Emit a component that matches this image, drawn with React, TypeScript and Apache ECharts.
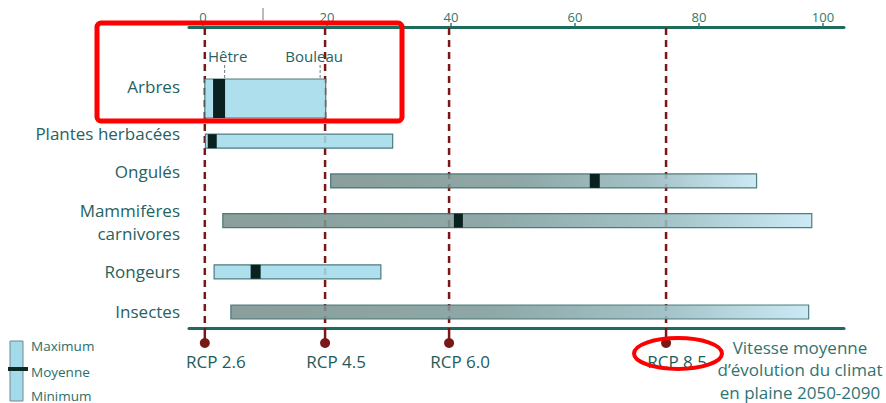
import React, { useEffect, useRef } from "react";
import * as echarts from "echarts";

// ---- data ----
const categories = ["Arbres", "Plantes herbacées", "Ongulés", "Mammifères\ncarnivores", "Rongeurs", "Insectes"];
const minValues = [0.3, 0.4, 20.6, 3.2, 1.8, 4.5];
const maxValues = [19.8, 30.6, 89.3, 98.2, 28.7, 97.7];
const meanValues: (number | null)[] = [2.6, 1.5, 63.2, 41.2, 8.5, null];
const xTicks = [0, 20, 40, 60, 80, 100];
const rcpNames = ["RCP 2.6", "RCP 4.5", "RCP 6.0", "RCP 8.5"];
const rcpValues = [0.3, 19.7, 39.7, 74.7];
const treeNames = ["Hêtre", "Bouleau"];
const treeValues = [3.5, 18.9];
const legendLabels = ["Maximum", "Moyenne", "Minimum"];
const footnote = "Vitesse moyenne\nd\u2019évolution du climat\nen plaine 2050-2090";

// ---- layout / style (not data) ----
const rowPos = [0, 1.0, 1.93, 2.86, 4.06, 5];
const rowHeight = [39, 14, 14, 14, 14, 14];
const meanWidth = [12, 9, 10, 9, 10, 0];
const labelDy = [-12, -8, -9, 1, 0, 0];
const gradientRows = [false, false, true, true, false, true];
const treeLabelDx = [3, -6];

const FONT = "'Open Sans', 'Noto Sans', sans-serif";
const TEAL = "#26625f";
const RED = "#7a1818";

export default function App() {
  const ref = useRef<HTMLDivElement>(null);

  useEffect(() => {
    if (!ref.current) return;
    const chart = echarts.init(ref.current, null, { renderer: "svg" });

    const barData = categories.map((_, i) => [minValues[i], maxValues[i], rowPos[i], i]);

    const option: any = {
      animation: false,
      backgroundColor: "#ffffff",
      grid: { left: 189, right: 42, top: 27, bottom: 75 },
      xAxis: [
        {
          type: "value",
          position: "top",
          min: -2.25,
          max: 103.4,
          axisLine: { show: true, onZero: false, lineStyle: { color: "#1d6b5b", width: 3 } },
          axisTick: { show: true, customValues: xTicks, length: 4, lineStyle: { color: "#2b7a70", width: 1.5 } },
          axisLabel: { show: true, customValues: xTicks, color: "#2b7a70", fontSize: 13, fontFamily: FONT, margin: 4 },
          splitLine: { show: false },
        },
        {
          type: "value",
          position: "bottom",
          min: -2.25,
          max: 103.4,
          axisLine: { show: true, onZero: false, lineStyle: { color: "#1d6b5b", width: 3 } },
          axisTick: { show: false },
          axisLabel: { show: false },
          splitLine: { show: false },
        },
      ],
      yAxis: { type: "value", inverse: true, min: -1.674, max: 5.375, show: false },
      series: [
        {
          type: "custom",
          name: "rcp",
          xAxisIndex: 0,
          z: 1,
          data: rcpValues.map((v) => [v]),
          renderItem: (params: any, api: any) => {
            const i = params.dataIndex;
            const cs = params.coordSys;
            const x = api.coord([api.value(0), 0])[0];
            const top = cs.y;
            const bottom = cs.y + cs.height;
            return {
              type: "group",
              children: [
                { type: "line", shape: { x1: x, y1: top + 1, x2: x, y2: bottom }, style: { stroke: RED, lineWidth: 2.5, lineDash: [7, 5] } },
                { type: "line", shape: { x1: x, y1: bottom, x2: x, y2: bottom + 14 }, style: { stroke: RED, lineWidth: 2.5 } },
                { type: "circle", shape: { cx: x, cy: bottom + 15, r: 5 }, style: { fill: RED } },
                {
                  type: "text",
                  x: x + 11,
                  y: bottom + 33,
                  style: { text: rcpNames[i], align: "center", verticalAlign: "middle", fill: "#1f5c5a", font: `17px ${FONT}` },
                },
              ],
            };
          },
        },
        {
          type: "custom",
          name: "bars",
          xAxisIndex: 0,
          z: 2,
          data: barData,
          renderItem: (params: any, api: any) => {
            const i = params.dataIndex;
            const row = api.value(2);
            const [x0, yc] = api.coord([api.value(0), row]);
            const x1 = api.coord([api.value(1), row])[0];
            const h = rowHeight[i];
            const fill = gradientRows[i]
              ? new echarts.graphic.LinearGradient(0, 0, 1, 0, [
                  { offset: 0, color: "#7a918d" },
                  { offset: 0.45, color: "#7f9c9b" },
                  { offset: 0.75, color: "#97babf" },
                  { offset: 1, color: "#c4e7f4" },
                ])
              : "#a3dbeb";
            const children: any[] = [
              {
                type: "rect",
                shape: { x: x0, y: yc - h / 2, width: x1 - x0, height: h },
                style: { fill, stroke: "#3b6c6c", lineWidth: 1.2, opacity: 0.88 },
              },
            ];
            const m = meanValues[i];
            if (m !== null && m !== undefined) {
              const xm = api.coord([m, row])[0];
              children.push({
                type: "rect",
                shape: { x: xm - meanWidth[i] / 2, y: yc - h / 2, width: meanWidth[i], height: h },
                style: { fill: "#0a221f" },
              });
            }
            const gx = params.coordSys.x;
            children.push({
              type: "text",
              x: gx - 9,
              y: yc + labelDy[i],
              style: {
                text: categories[i],
                align: "right",
                verticalAlign: "middle",
                fill: TEAL,
                font: `17px ${FONT}`,
                lineHeight: 23,
              },
            });
            return { type: "group", children };
          },
        },
        {
          type: "custom",
          name: "trees",
          xAxisIndex: 0,
          z: 3,
          data: treeValues.map((v) => [v]),
          renderItem: (params: any, api: any) => {
            const i = params.dataIndex;
            const [x, yc] = api.coord([api.value(0), rowPos[0]]);
            const top = yc - rowHeight[0] / 2;
            return {
              type: "group",
              children: [
                { type: "line", shape: { x1: x, y1: top - 14, x2: x, y2: top }, style: { stroke: "#6d7a7a", lineWidth: 1, lineDash: [3, 2] } },
                {
                  type: "text",
                  x: x + treeLabelDx[i],
                  y: top - 23,
                  style: { text: treeNames[i], align: "center", verticalAlign: "middle", fill: TEAL, font: `15px ${FONT}` },
                },
              ],
            };
          },
        },
      ],
      graphic: [
        // small stray tick above axis
        { type: "line", shape: { x1: 263, y1: 8, x2: 263, y2: 20 }, style: { stroke: "#777", lineWidth: 1 } },
        // legend
        { type: "rect", shape: { x: 10, y: 341, width: 13, height: 60 }, style: { fill: "#a3dbeb", stroke: "#6f8a8a", lineWidth: 1 } },
        { type: "rect", shape: { x: 8, y: 367, width: 20, height: 4 }, style: { fill: "#0b2a26" } },
        { type: "text", x: 31, y: 345.5, style: { text: legendLabels[0], fill: "#2c6e6a", font: `13.5px ${FONT}`, verticalAlign: "middle" } },
        { type: "text", x: 31, y: 372, style: { text: legendLabels[1], fill: "#2c6e6a", font: `13.5px ${FONT}`, verticalAlign: "middle" } },
        { type: "text", x: 31, y: 395.5, style: { text: legendLabels[2], fill: "#2c6e6a", font: `13.5px ${FONT}`, verticalAlign: "middle" } },
        // footnote
        {
          type: "text",
          x: 800,
          y: 369.5,
          style: { text: footnote, align: "center", verticalAlign: "middle", fill: "#2e7470", font: `17px ${FONT}`, lineHeight: 22.5 },
        },
        // red annotations
        { type: "rect", z: 100, shape: { x: 97, y: 23, width: 305, height: 98, r: 4 }, style: { fill: "none", stroke: "#ff0000", lineWidth: 5 } },
        { type: "ellipse", z: 100, shape: { cx: 678, cy: 353.5, rx: 44, ry: 15.5 }, style: { fill: "none", stroke: "#ff0000", lineWidth: 4 } },
      ],
    };

    chart.setOption(option);
    return () => chart.dispose();
  }, []);

  return <div ref={ref} style={{ position: "fixed", left: 0, top: 0, width: 886, height: 403 }} />;
}
